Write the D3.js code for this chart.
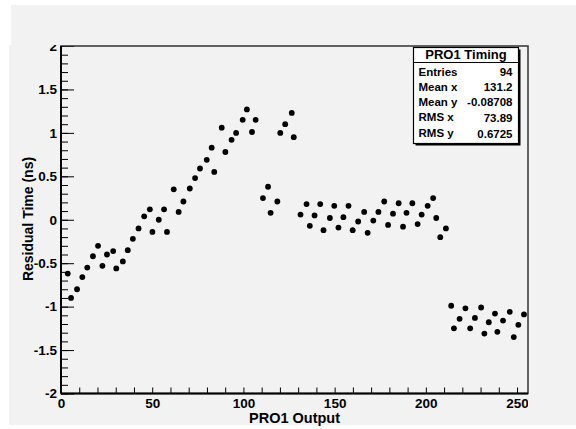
<!DOCTYPE html>
<html>
<head>
<meta charset="utf-8">
<script src="https://cdn.jsdelivr.net/npm/d3@7"></script>
<style>
body { margin: 0; background: #ffffff; }
text { font-family: "Liberation Sans", Arial, sans-serif; font-weight: bold; fill: #000; }
</style>
</head>
<body>
<div id="d3Chart"></div>
<script>
// channel number (x) and residual time in ns (y)
var xValues = [3.7, 5.5, 8.8, 11.7, 14.4, 17.5, 20.3, 22.7, 25.2, 28.6,
  30.3, 33.9, 36.6, 39.4, 42.5, 45.6, 48.7, 50.1, 53.6, 56.5,
  58.1, 61.8, 64.5, 67.1, 70.6, 73.5, 76.2, 79.9, 82.6, 84.0,
  88.1, 90.1, 93.5, 96.0, 99.6, 101.9, 104.7, 106.7, 110.7, 113.5,
  114.9, 118.6, 120.2, 122.9, 126.5, 127.6, 131.3, 134.6, 136.4, 139.0,
  142.1, 143.9, 147.4, 149.8, 152.1, 154.8, 157.6, 159.9, 162.9, 166.2,
  168.1, 171.2, 174.0, 177.2, 179.3, 182.0, 185.1, 187.5, 189.4, 192.6,
  195.5, 197.7, 201.0, 204.0, 205.7, 207.9, 211.0, 213.9, 215.4, 218.5,
  221.7, 224.3, 226.9, 230.3, 232.1, 234.5, 237.9, 239.2, 242.3, 246.0,
  248.2, 250.7, 253.8];
var yValues = [-0.62, -0.90, -0.80, -0.66, -0.55, -0.42, -0.30, -0.53, -0.40, -0.36,
  -0.56, -0.48, -0.35, -0.22, -0.10, 0.04, 0.12, -0.14, 0.00, 0.12,
  -0.14, 0.35, 0.09, 0.21, 0.36, 0.48, 0.59, 0.69, 0.83, 0.55,
  1.06, 0.78, 0.92, 1.00, 1.15, 1.27, 1.01, 1.15, 0.25, 0.38,
  0.08, 0.21, 1.00, 1.10, 1.23, 0.95, 0.06, 0.18, -0.07, 0.05,
  0.18, -0.12, 0.02, 0.16, -0.09, 0.03, 0.16, -0.12, -0.02, 0.09,
  -0.15, -0.01, 0.09, 0.21, -0.06, 0.07, 0.19, -0.08, 0.08, 0.19,
  -0.05, 0.06, 0.16, 0.25, 0.02, -0.20, -0.10, -0.99, -1.25, -1.14,
  -1.02, -1.25, -1.13, -1.01, -1.31, -1.18, -1.08, -1.29, -1.16, -1.06,
  -1.35, -1.21, -1.09];
var xTicks = [0, 50, 100, 150, 200, 250];
var yTicks = [-2, -1.5, -1, -0.5, 0, 0.5, 1, 1.5, 2];
var statsTitle = "PRO1 Timing";
var statsNames = ["Entries", "Mean x", "Mean y", "RMS x", "RMS y"];
var statsValues = ["94", "131.2", "-0.08708", "73.89", "0.6725"];

var W = 576, H = 429;
var frame = {left: 61, right: 528, top: 46, bottom: 393.5};

var svg = d3.select("#d3Chart").append("svg")
  .attr("width", W)
  .attr("height", H);

// canvas background (white rim, grey pad)
svg.append("rect").attr("width", W).attr("height", H).attr("fill", "#ffffff");
svg.append("rect")
  .attr("x", 9).attr("y", 45)
  .attr("width", W - 9).attr("height", 380)
  .attr("fill", "#f2f2f2");

var x = d3.scaleLinear().domain([0, 256]).range([frame.left, frame.right]);
var y = d3.scaleLinear().domain([-2, 2]).range([frame.bottom, frame.top]);

// minor ticks
svg.append("g")
  .attr("transform", "translate(" + frame.left + ",0)")
  .call(d3.axisLeft(y).tickValues(d3.range(-20, 21).map(function(d) { return d / 10; }))
    .tickSizeInner(-7).tickSizeOuter(0).tickFormat(""))
  .call(function(g) { g.select(".domain").remove(); });
svg.append("g")
  .attr("transform", "translate(0," + frame.bottom + ")")
  .call(d3.axisBottom(x).tickValues(d3.range(0, 256, 10))
    .tickSizeInner(-6).tickSizeOuter(0).tickFormat(""))
  .call(function(g) { g.select(".domain").remove(); });

// major ticks + labels
var yAxis = svg.append("g")
  .attr("transform", "translate(" + frame.left + ",0)")
  .call(d3.axisLeft(y).tickValues(yTicks).tickSizeInner(-13).tickSizeOuter(0)
    .tickPadding(4).tickFormat(function(d) { return String(d); }));
yAxis.select(".domain").remove();
yAxis.selectAll("text").style("font-size", "13.5px").attr("font-family", null);

svg.append("defs").append("clipPath").attr("id", "xclip")
  .append("rect").attr("x", 0).attr("y", 0).attr("width", frame.right).attr("height", H);
var xAxis = svg.append("g")
  .attr("transform", "translate(0," + frame.bottom + ")")
  .attr("clip-path", "url(#xclip)")
  .call(d3.axisBottom(x).tickValues(xTicks).tickSizeInner(-11).tickSizeOuter(0)
    .tickPadding(4.5).tickFormat(function(d) { return String(d); }));
xAxis.select(".domain").remove();
xAxis.selectAll("text").style("font-size", "13.5px").attr("font-family", null);
svg.selectAll(".tick line").attr("stroke", "#000").attr("stroke-width", 1);

// top strip of the canvas hides the upper half of the "2"
svg.append("rect")
  .attr("x", 11).attr("y", 5)
  .attr("width", W - 11).attr("height", 40)
  .attr("fill", "#f2f2f2");

// the points
svg.append("g").selectAll("circle")
  .data(xValues)
  .enter().append("circle")
  .attr("cx", function(d) { return x(d); })
  .attr("cy", function(d, i) { return y(yValues[i]); })
  .attr("r", 2.9)
  .attr("fill", "#000");

// frame
svg.append("rect")
  .attr("x", frame.left).attr("y", frame.top)
  .attr("width", frame.right - frame.left).attr("height", frame.bottom - frame.top)
  .attr("fill", "none").attr("stroke", "#333").attr("stroke-width", 1.5);
svg.append("line")
  .attr("x1", frame.left).attr("x2", frame.left)
  .attr("y1", frame.top).attr("y2", frame.bottom)
  .attr("stroke", "#000").attr("stroke-width", 2);
svg.append("line")
  .attr("x1", frame.left).attr("x2", frame.right)
  .attr("y1", frame.bottom).attr("y2", frame.bottom)
  .attr("stroke", "#000").attr("stroke-width", 2);

// axis titles
svg.append("text")
  .attr("x", (frame.left + frame.right) / 2)
  .attr("y", 422.5)
  .style("text-anchor", "middle")
  .style("font-size", "14.5px")
  .text("PRO1 Output");
svg.append("text")
  .attr("transform", "rotate(-90)")
  .attr("x", -219)
  .attr("y", 32.5)
  .style("text-anchor", "middle")
  .style("font-size", "14px")
  .text("Residual Time (ns)");

// stats box
var box = {x: 413.5, y: 47.5, w: 105, h: 96, title: 15};
svg.append("rect")
  .attr("x", box.x + 2).attr("y", box.y + 2)
  .attr("width", box.w).attr("height", box.h)
  .attr("fill", "#000");
svg.append("rect")
  .attr("x", box.x).attr("y", box.y)
  .attr("width", box.w).attr("height", box.h)
  .attr("fill", "#ffffff").attr("stroke", "#000").attr("stroke-width", 1.2);
svg.append("line")
  .attr("x1", box.x).attr("x2", box.x + box.w)
  .attr("y1", box.y + box.title).attr("y2", box.y + box.title)
  .attr("stroke", "#000").attr("stroke-width", 1.2);
svg.append("text")
  .attr("x", box.x + box.w / 2)
  .attr("y", box.y + 11.5)
  .style("text-anchor", "middle")
  .style("font-size", "13px")
  .text(statsTitle);
statsNames.forEach(function(name, i) {
  var ty = box.y + box.title + 13 + i * 15.3;
  svg.append("text")
    .attr("x", box.x + 5).attr("y", ty)
    .style("font-size", "11.5px")
    .text(name);
  svg.append("text")
    .attr("x", box.x + box.w - 6).attr("y", ty + (i > 2 ? 1 : 0))
    .style("text-anchor", "end")
    .style("font-size", "11.5px")
    .text(statsValues[i]);
});
</script>
</body>
</html>
